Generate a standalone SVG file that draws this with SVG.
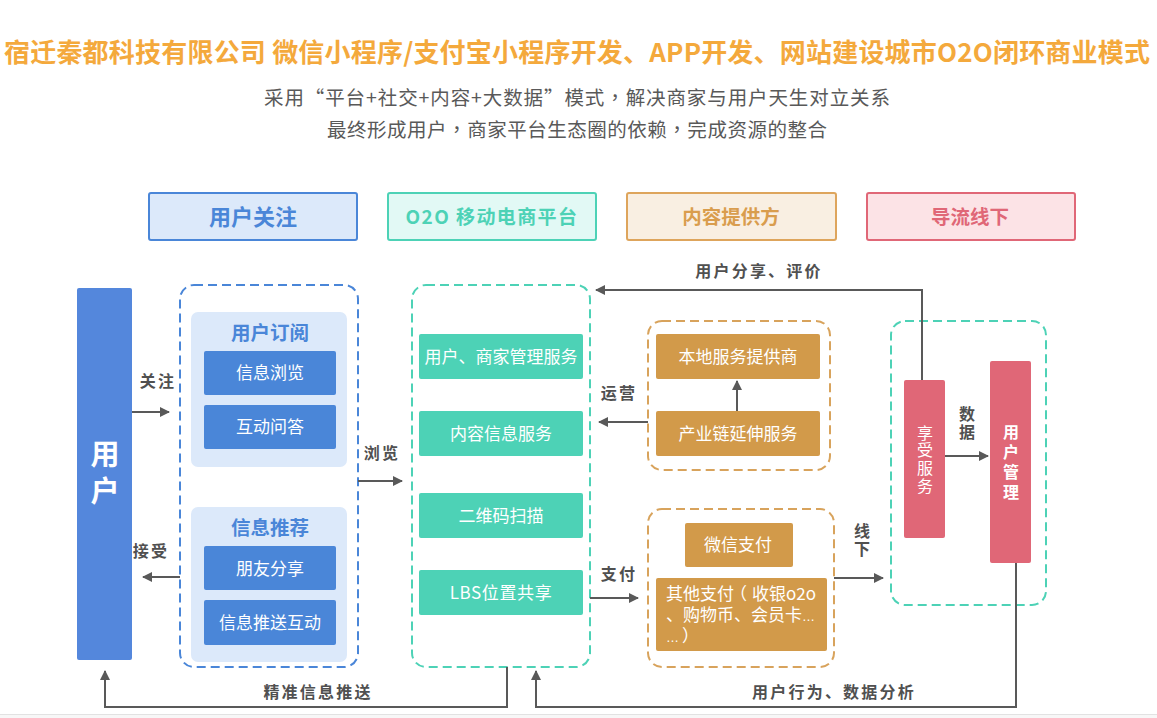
<svg xmlns="http://www.w3.org/2000/svg" width="1157" height="718" viewBox="0 0 1157 718">
<style>
text{font-family:"Noto Sans CJK SC","Noto Sans",sans-serif;text-anchor:middle}
.head{fill:#f4a93c;font-size:26px;font-weight:700}
.sub{fill:#595959;font-size:19.5px}
.tc{font-family:"Noto Sans CJK TC",sans-serif}
.hb{stroke-width:2}
.ht{font-weight:700}
.dash{fill:none;stroke-width:2;stroke-dasharray:9 5}
.w{fill:#fff;font-size:17px}
.el{font-family:"Liberation Sans",sans-serif;font-size:13px}
.lb{fill:#505050;font-size:16px;font-weight:700;letter-spacing:2.2px}
.lv{fill:#505050;font-size:16px;font-weight:700;writing-mode:vertical-rl;letter-spacing:2.5px}
.vw{fill:#fff;writing-mode:vertical-rl}
.pt{fill:#4a86d8;font-size:19.5px;font-weight:700}
.p{fill:#dce9fa}
.bl{fill:#4a86d8}
.te{fill:#4dd2b6}
.or{fill:#d29a4a}
.pk{fill:#e06777}
.c{fill:none;stroke:#595959;stroke-width:2}
</style>
<defs>
<marker id="a" markerUnits="userSpaceOnUse" markerWidth="12" markerHeight="12" refX="9" refY="6" orient="auto"><path d="M0 1L10 6L0 11Z" fill="#595959"/></marker>
</defs>
<rect width="1157" height="718" fill="#fff"/>
<rect y="714" width="1157" height="4" fill="#f7f7f7"/>
<rect y="714" width="1157" height="1" fill="#e2e2e2"/>
<g id="title">
<text class="head" x="577" y="62" textLength="1146" lengthAdjust="spacing">宿迁秦都科技有限公司 微信小程序/支付宝小程序开发、APP开发、网站建设城市O2O闭环商业模式</text>
<text class="sub" x="577" y="105" textLength="626" lengthAdjust="spacing">采用“平台+社交+内容+大数据”模式<tspan class="tc">，</tspan>解决商家与用户天生对立关系</text>
<text class="sub" x="577" y="137" textLength="500" lengthAdjust="spacing">最终形成用户<tspan class="tc">，</tspan>商家平台生态圈的依赖<tspan class="tc">，</tspan>完成资源的整合</text>
</g>
<g id="head-user"><rect class="hb" x="149" y="193" width="208" height="47" rx="2" fill="#dce9fa" stroke="#4a86d8"/><text class="ht" x="253" y="225" fill="#4a86d8" style="font-size:22px">用户关注</text></g>
<g id="head-o2o"><rect class="hb" x="388" y="193" width="208" height="47" rx="2" fill="#e2f9f5" stroke="#4dd2b6"/><text class="ht" x="492" y="224" fill="#4dd2b6" style="font-size:19px;letter-spacing:1.4px">O2O 移动电商平台</text></g>
<g id="head-content"><rect class="hb" x="627" y="193" width="209" height="47" rx="2" fill="#f9efe2" stroke="#dea55c"/><text class="ht" x="731" y="224" fill="#d99d4e" style="font-size:19.5px">内容提供方</text></g>
<g id="head-offline"><rect class="hb" x="867" y="193" width="208" height="47" rx="2" fill="#fce3e6" stroke="#e06777"/><text class="ht" x="970" y="224" fill="#e06777" style="font-size:19.5px">导流线下</text></g>

<g id="user"><rect x="77" y="288" width="55" height="372" rx="2" fill="#5487dc"/><text class="vw" x="105" y="476" style="font-size:29px;font-weight:700;letter-spacing:8px">用户</text></g>

<g id="user-group"><rect class="dash" x="180" y="285" width="178" height="382" rx="14" stroke="#4a86d8"/></g>
<g id="subscribe"><rect class="p" x="191" y="312" width="156" height="155" rx="7"/><text class="pt" x="270" y="340">用户订阅</text></g>
<g id="n-browse"><rect class="bl" x="204" y="351" width="132" height="44" rx="2"/><text class="w" x="270" y="379">信息浏览</text></g>
<g id="n-qa"><rect class="bl" x="204" y="405" width="132" height="44" rx="2"/><text class="w" x="270" y="433">互动问答</text></g>
<g id="recommend"><rect class="p" x="191" y="507" width="156" height="155" rx="7"/><text class="pt" x="270" y="535">信息推荐</text></g>
<g id="n-share"><rect class="bl" x="204" y="546" width="132" height="44" rx="2"/><text class="w" x="270" y="575">朋友分享</text></g>
<g id="n-push"><rect class="bl" x="204" y="600" width="132" height="45" rx="2"/><text class="w" x="270" y="629">信息推送互动</text></g>

<g id="platform-group"><rect class="dash" x="412" y="285" width="178" height="382" rx="14" stroke="#4dd2b6"/></g>
<g id="n-mgmt"><rect class="te" x="419" y="334" width="164" height="45" rx="2"/><text class="w" x="501" y="363" textLength="153" lengthAdjust="spacing">用户、商家管理服务</text></g>
<g id="n-info"><rect class="te" x="419" y="411" width="164" height="45" rx="2"/><text class="w" x="501" y="440">内容信息服务</text></g>
<g id="n-qr"><rect class="te" x="419" y="493" width="164" height="45" rx="2"/><text class="w" x="501" y="522">二维码扫描</text></g>
<g id="n-lbs"><rect class="te" x="419" y="570" width="164" height="45" rx="2"/><text class="w" x="501" y="599" style="letter-spacing:.6px">LBS位置共享</text></g>

<g id="provider-group"><rect class="dash" x="648" y="321" width="182" height="149" rx="14" stroke="#d8a35c"/></g>
<g id="n-local"><rect class="or" x="656" y="334" width="164" height="45" rx="2"/><text class="w" x="738" y="363">本地服务提供商</text></g>
<g id="n-chain"><rect class="or" x="656" y="411" width="164" height="45" rx="2"/><text class="w" x="738" y="440">产业链延伸服务</text></g>

<g id="pay-group"><rect class="dash" x="648" y="509" width="186" height="158" rx="14" stroke="#d8a35c"/></g>
<g id="n-wechat"><rect class="or" x="685" y="523" width="108" height="44" rx="2"/><text class="w" x="738" y="551">微信支付</text></g>
<g id="n-other"><rect class="or" x="656" y="578" width="171" height="73" rx="2"/>
<text class="w" style="text-anchor:start"><tspan x="666" y="600">其他支付<tspan dx="-4">（</tspan><tspan dx="5">收银o2o</tspan></tspan><tspan x="666" y="621">、购物币、会员卡<tspan class="el">…</tspan></tspan><tspan x="666" y="642"><tspan class="el">…</tspan><tspan dx="3">）</tspan></tspan></text></g>

<g id="offline-group"><rect class="dash" x="891" y="321" width="155" height="284" rx="14" stroke="#4dd2b6"/></g>
<g id="n-enjoy"><rect class="pk" x="904" y="380" width="41" height="158" rx="2"/><text class="vw" x="925" y="460" style="font-size:16px;letter-spacing:1.6px">享受服务</text></g>
<g id="n-manage"><rect class="pk" x="990" y="361" width="41" height="202" rx="2"/><text class="vw" x="1011" y="464" style="font-size:16px;font-weight:700;letter-spacing:4.2px">用户管理</text></g>

<g id="connectors">
<path class="c" marker-end="url(#a)" d="M132 412H169"/>
<path class="c" marker-end="url(#a)" d="M180 577H143"/>
<path class="c" marker-end="url(#a)" d="M358 481H402"/>
<path class="c" marker-end="url(#a)" d="M507 667V707H105V671"/>
<path class="c" marker-end="url(#a)" d="M1016 563V707H536V671"/>
<path class="c" marker-end="url(#a)" d="M922 380V290H596"/>
<path class="c" marker-end="url(#a)" d="M648 422H599"/>
<path class="c" marker-end="url(#a)" d="M737 411V381"/>
<path class="c" marker-end="url(#a)" d="M590 598H638"/>
<path class="c" marker-end="url(#a)" d="M834 578H883"/>
<path class="c" marker-end="url(#a)" d="M945 456H988"/>
</g>
<g id="labels">
<text class="lb" x="158" y="387">关注</text>
<text class="lb" x="151" y="557">接受</text>
<text class="lb" x="382" y="459">浏览</text>
<text class="lb" x="318" y="698">精准信息推送</text>
<text class="lb" x="834" y="698">用户行为、数据分析</text>
<text class="lb" x="759" y="277">用户分享、评价</text>
<text class="lb" x="619" y="399">运营</text>
<text class="lb" x="619" y="580">支付</text>
<text class="lv" x="967" y="424">数据</text>
<text class="lv" x="862" y="541">线下</text>
</g>
</svg>
